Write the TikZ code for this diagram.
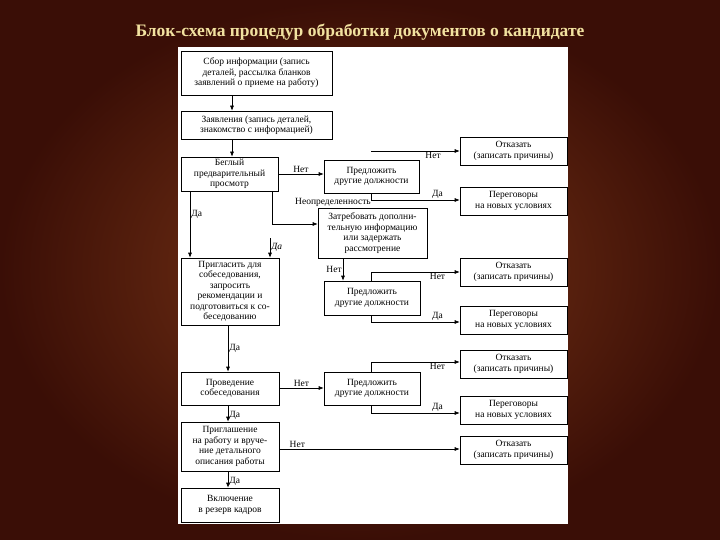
\documentclass[tikz,border=0pt]{standalone}
\usepackage{fontspec}
\setmainfont{Liberation Serif}
\usetikzlibrary{arrows.meta}
\definecolor{bgin}{HTML}{7E3818}
\definecolor{bgout}{HTML}{3A0E06}
\definecolor{titlec}{HTML}{F2E2A0}
\begin{document}
\begin{tikzpicture}[x=1pt,y=-1pt,
  bx/.style={draw,line width=0.6pt,align=center,font=\fontsize{9.5}{10.5}\selectfont,inner sep=0pt},
  ln/.style={line width=0.6pt},
  ar/.style={ln,-{Latex[length=5pt,width=4pt]}},
  lb/.style={font=\fontsize{9.5}{10.5}\selectfont,inner sep=1pt}]
\useasboundingbox (0,0) rectangle (720,540);
\shade[inner color=bgin,outer color=bgout] (0,0) rectangle (720,540);
\node[font=\bfseries\fontsize{17.5}{20}\selectfont,text=titlec] (title) at (360,32) {Блок-схема процедур обработки документов о кандидате};
\fill[white] (178,47) rectangle (568,524);
% left column
\node[bx,minimum width=151,minimum height=44] (b1) at (256.5,73) {Сбор информации (запись\\деталей, рассылка бланков\\заявлений о приеме на работу)};
\node[bx,minimum width=151,minimum height=28] (b2) at (256.5,125) {Заявления (запись деталей,\\знакомство с информацией)};
\node[bx,minimum width=97,minimum height=34] (b3) at (229.5,174) {Беглый\\предварительный\\просмотр};
\node[bx,minimum width=98,minimum height=67] (b6) at (230,291.5) {Пригласить для\\собеседования,\\запросить\\рекомендации и\\подготовиться к со-\\беседованию};
\node[bx,minimum width=98,minimum height=33] (b8) at (230,388.5) {Проведение\\собеседования};
\node[bx,minimum width=98,minimum height=49] (b10) at (230,446.5) {Приглашение\\на работу и вруче-\\ние детального\\описания работы};
\node[bx,minimum width=98,minimum height=34] (b11) at (230,505) {Включение\\в резерв кадров};
% middle column
\node[bx,minimum width=95,minimum height=33] (b4) at (371.5,176.5) {Предложить\\другие должности};
\node[bx,minimum width=109,minimum height=50] (b5) at (372.5,233) {Затребовать дополни-\\тельную информацию\\или задержать\\рассмотрение};
\node[bx,minimum width=96,minimum height=34] (b7) at (372,298) {Предложить\\другие должности};
\node[bx,minimum width=96,minimum height=33] (b9) at (372,388.5) {Предложить\\другие должности};
% right column
\node[bx,minimum width=107,minimum height=28] (r1) at (513.5,151) {Отказать\\(записать причины)};
\node[bx,minimum width=107,minimum height=28] (r2) at (513.5,201) {Переговоры\\на новых условиях};
\node[bx,minimum width=107,minimum height=28] (r3) at (513.5,272) {Отказать\\(записать причины)};
\node[bx,minimum width=107,minimum height=28] (r4) at (513.5,320) {Переговоры\\на новых условиях};
\node[bx,minimum width=107,minimum height=28] (r5) at (513.5,364) {Отказать\\(записать причины)};
\node[bx,minimum width=107,minimum height=28] (r6) at (513.5,410) {Переговоры\\на новых условиях};
\node[bx,minimum width=107,minimum height=28] (r7) at (513.5,450) {Отказать\\(записать причины)};
% connectors
\draw[ar] (b1.south -| 232,0) -- (b2.north -| 232,0);
\draw[ar] (b2.south -| 232,0) -- (b3.north -| 232,0);
\draw[ar] (b3.east |- 0,174) -- node[lb,above]{Нет} (b4.west |- 0,174);
\coordinate (c1) at (371,151);
\draw[ar] (c1) -- node[lb,below,pos=0.7]{Нет} (r1.west |- c1);
\draw[ln] (b4.south -| 371,0) -- (371,200) coordinate (c2);
\draw[ar] (c2) -- node[lb,above,pos=0.75]{Да} (r2.west |- c2);
\draw[ar] (b3.south -| 272,0) -- (272,224) -- (b5.west |- 0,224);
\node[lb] (neop) at (333,202) {Неопределенность};
\draw[ar] (b3.south -| 190,0) -- node[lb,right,pos=0.35]{Да} (b6.north -| 190,0);
\coordinate (c3) at (270,238);
\draw[ar] (c3) -- node[lb,right,font=\itshape\fontsize{9.5}{10.5}\selectfont]{Да} (b6.north -| 270,0);
\draw[ar] (b5.south -| 343,0) -- node[lb,left]{Нет} (b7.north -| 343,0);
\draw[ln] (b7.north -| 371,0) -- (371,272) coordinate (c4);
\draw[ar] (c4) -- node[lb,below,pos=0.75]{Нет} (r3.west |- c4);
\draw[ln] (b7.south -| 371,0) -- (371,322) coordinate (c5);
\draw[ar] (c5) -- node[lb,above,pos=0.75]{Да} (r4.west |- c5);
\draw[ar] (b6.south -| 228,0) -- node[lb,right]{Да} (b8.north -| 228,0);
\draw[ar] (b8.east |- 0,388) -- node[lb,above]{Нет} (b9.west |- 0,388);
\draw[ln] (b9.north -| 371,0) -- (371,362) coordinate (c6);
\draw[ar] (c6) -- node[lb,below,pos=0.75]{Нет} (r5.west |- c6);
\draw[ln] (b9.south -| 371,0) -- (371,413) coordinate (c7);
\draw[ar] (c7) -- node[lb,above,pos=0.75]{Да} (r6.west |- c7);
\draw[ar] (b8.south -| 228,0) -- node[lb,right,pos=0.6]{Да} (b10.north -| 228,0);
\draw[ar] (b10.east |- 0,449) -- node[lb,above,pos=0.1]{Нет} (r7.west |- 0,449);
\draw[ar] (b10.south -| 228,0) -- node[lb,right,pos=0.6]{Да} (b11.north -| 228,0);
\end{tikzpicture}
\end{document}
